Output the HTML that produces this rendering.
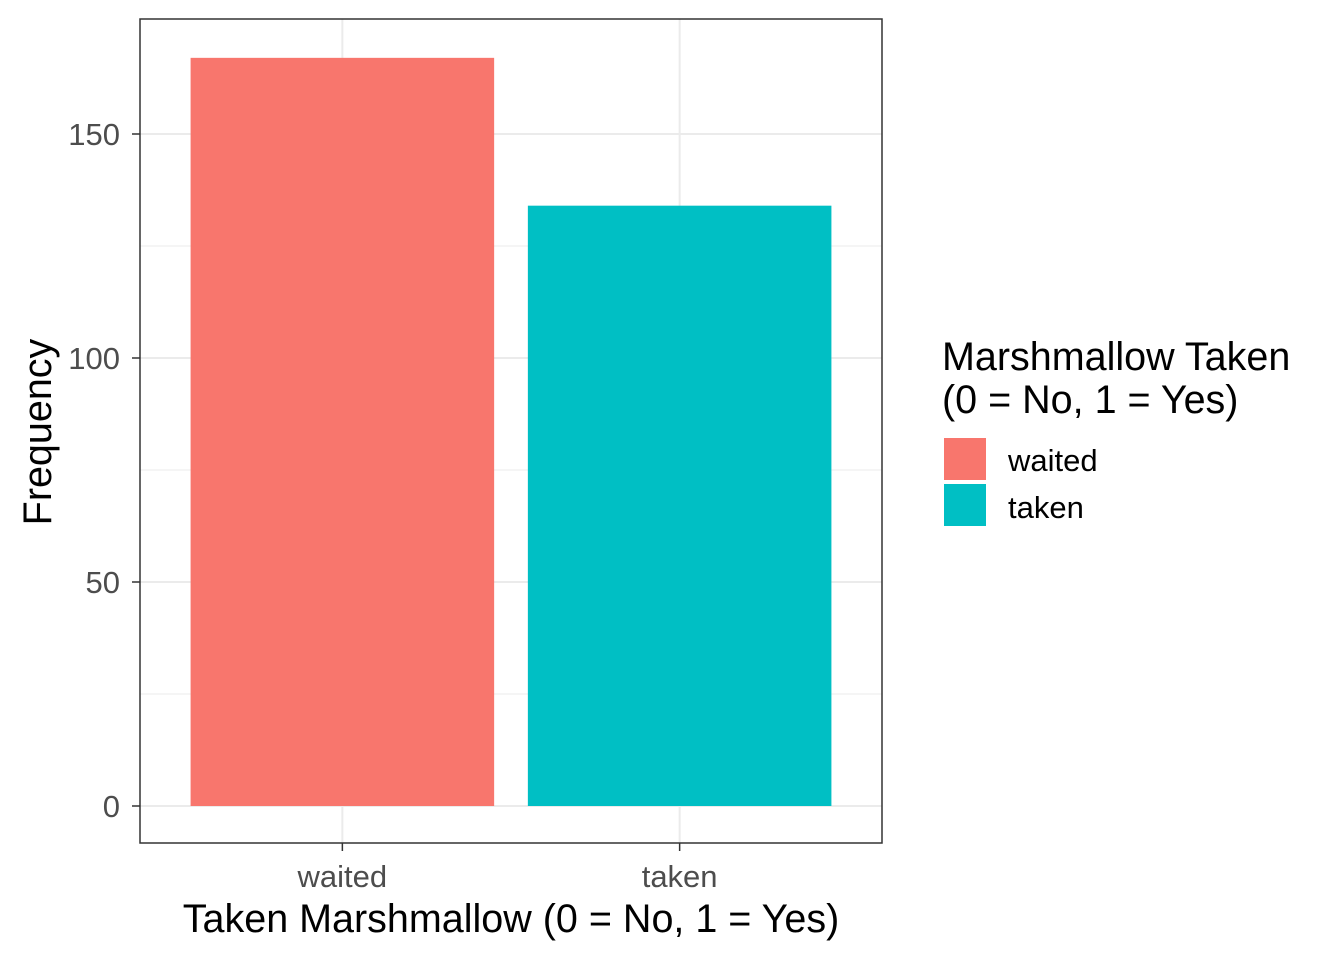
<!DOCTYPE html>
<html><head><meta charset="utf-8"><style>
body{margin:0;background:#fff;}
svg text{font-family:"Liberation Sans",Arial,sans-serif;}
</style></head><body>
<svg id="chart" width="1344" height="960" xmlns="http://www.w3.org/2000/svg">
<rect x="0" y="0" width="1344" height="960" fill="#fff"/>
<g id="grid"></g>
<g id="bars"></g>
<rect x="140" y="19" width="742" height="824" fill="none" stroke="#333" stroke-width="1.5"/>
<g id="axes"></g>
<text x="511" y="932" font-size="39.5" text-anchor="middle" fill="#000">Taken Marshmallow (0 = No, 1 = Yes)</text>
<text transform="translate(51,432) rotate(-90)" font-size="39.5" text-anchor="middle" fill="#000">Frequency</text>
<g>
<text x="942" y="370" font-size="39.5" fill="#000">Marshmallow Taken</text>
<text x="942" y="413" font-size="39.5" fill="#000">(0 = No, 1 = Yes)</text>
<rect x="944" y="438" width="42" height="42" fill="#F8766D"/>
<text x="1008" y="471" font-size="31" fill="#000">waited</text>
<rect x="944" y="484" width="42" height="42" fill="#00BFC4"/>
<text x="1008" y="518" font-size="31" fill="#000">taken</text>
</g>
</svg>
<script>
const categories=["waited","taken"];
const counts=[167,134];
const colors=["#F8766D","#00BFC4"];
const yTicks=[0,50,100,150];
const yMinor=[25,75,125];
const NS="http://www.w3.org/2000/svg";
const x0=140,x1=882,y0=806,pxPer=4.48;
function yS(v){return y0-v*pxPer;}
const band=(x1-x0)/(categories.length+0.2);
function xS(i){return x0+band*0.6+band*i;}
function mk(t,a,p){const e=document.createElementNS(NS,t);for(const k in a)e.setAttribute(k,a[k]);p.appendChild(e);return e;}
const grid=document.getElementById('grid'),bars=document.getElementById('bars'),axes=document.getElementById('axes');
yMinor.forEach(v=>{const l=mk('line',{x1:x0,x2:x1,y1:yS(v),y2:yS(v),stroke:'#ebebeb','stroke-width':1},grid);

});
yTicks.forEach(v=>{const l=mk('line',{x1:x0,x2:x1,y1:yS(v),y2:yS(v),stroke:'#ebebeb','stroke-width':2},grid);


const t=mk('line',{x1:x0-8,x2:x0,y1:yS(v),y2:yS(v),stroke:'#333','stroke-width':1.5},axes);


const tx=mk('text',{x:x0-20,y:yS(v)+11,'font-size':31,'text-anchor':'end',fill:'#4d4d4d'},axes);tx.textContent=v;

});
categories.forEach((c,i)=>{const cx=xS(i);
const g=mk('line',{x1:cx,x2:cx,y1:19,y2:843,stroke:'#ebebeb','stroke-width':2},grid);


const w=band*0.9;
const b=mk('rect',{x:cx-w/2,y:yS(counts[i]),width:w,height:y0-yS(counts[i]),fill:colors[i]},bars);


const t=mk('line',{x1:cx,x2:cx,y1:843,y2:851,stroke:'#333','stroke-width':1.5},axes);


const tx=mk('text',{x:cx,y:887,'font-size':31,'text-anchor':'middle',fill:'#4d4d4d'},axes);tx.textContent=c;

});
</script>
</body></html>
